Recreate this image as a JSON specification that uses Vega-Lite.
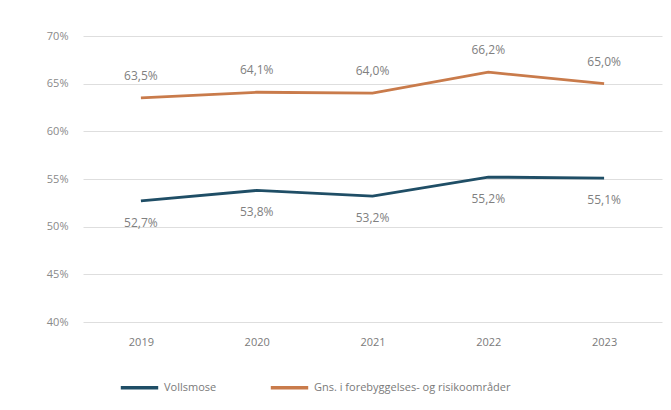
{
  "$schema": "https://vega.github.io/schema/vega-lite/v6.json",
  "width": 579,
  "height": 286,
  "autosize": {"type": "none"},
  "padding": {"left": 83, "top": 36, "right": 9, "bottom": 88},
  "background": "white",
  "data": {"values": [
    {"year": "2019", "serie": "Vollsmose", "value": 0.527},
    {"year": "2020", "serie": "Vollsmose", "value": 0.538},
    {"year": "2021", "serie": "Vollsmose", "value": 0.532},
    {"year": "2022", "serie": "Vollsmose", "value": 0.552},
    {"year": "2023", "serie": "Vollsmose", "value": 0.551},
    {"year": "2019", "serie": "Gns. i forebyggelses- og risikoområder", "value": 0.635},
    {"year": "2020", "serie": "Gns. i forebyggelses- og risikoområder", "value": 0.641},
    {"year": "2021", "serie": "Gns. i forebyggelses- og risikoområder", "value": 0.640},
    {"year": "2022", "serie": "Gns. i forebyggelses- og risikoområder", "value": 0.662},
    {"year": "2023", "serie": "Gns. i forebyggelses- og risikoområder", "value": 0.650}
  ]},
  "encoding": {
    "x": {"field": "year", "type": "ordinal", "scale": {"type": "point", "padding": 0.5},
      "axis": {"title": null, "labelAngle": 0, "domain": false, "ticks": false, "labelPadding": 14, "labelColor": "#7a7a7a", "labelFontSize": 11, "labelFont": "Open Sans"}},
    "y": {"field": "value", "type": "quantitative", "scale": {"domain": [0.4, 0.7], "nice": false, "zero": false},
      "axis": {"title": null, "format": ".0%", "values": [0.4, 0.45, 0.5, 0.55, 0.6, 0.65, 0.7], "labelOverlap": false, "domain": false, "ticks": false, "labelPadding": 15, "labelColor": "#8a8a8a", "labelFontSize": 11, "labelFont": "Open Sans", "gridColor": "#dedede", "gridWidth": 1}}
  },
  "layer": [
    {
      "mark": {"type": "line", "strokeWidth": 2.8},
      "encoding": {
        "color": {"field": "serie", "type": "nominal",
          "scale": {"domain": ["Vollsmose", "Gns. i forebyggelses- og risikoområder"], "range": ["#1f4e66", "#c97b4b"]},
          "legend": {"title": null, "orient": "none", "legendX": 36, "legendY": 331, "direction": "horizontal", "symbolType": "stroke", "symbolSize": 1400, "symbolStrokeWidth": 3.5, "labelColor": "#7a7a7a", "labelFontSize": 11, "labelFont": "Open Sans", "labelLimit": 400, "columnPadding": 46}}
      }
    },
    {
      "transform": [{"filter": "datum.serie == 'Vollsmose'"}],
      "mark": {"type": "text", "dy": 22, "baseline": "middle", "fontSize": 12, "color": "#808080", "font": "Open Sans"},
      "encoding": {"text": {"field": "value", "type": "quantitative", "format": ".1%"}}
    },
    {
      "transform": [{"filter": "datum.serie != 'Vollsmose'"}],
      "mark": {"type": "text", "dy": -22, "baseline": "middle", "fontSize": 12, "color": "#808080", "font": "Open Sans"},
      "encoding": {"text": {"field": "value", "type": "quantitative", "format": ".1%"}}
    }
  ],
  "config": {
    "view": {"stroke": null},
    "locale": {"number": {"decimal": ",", "thousands": ".", "grouping": [3], "currency": ["", " kr."]}}
  }
}
